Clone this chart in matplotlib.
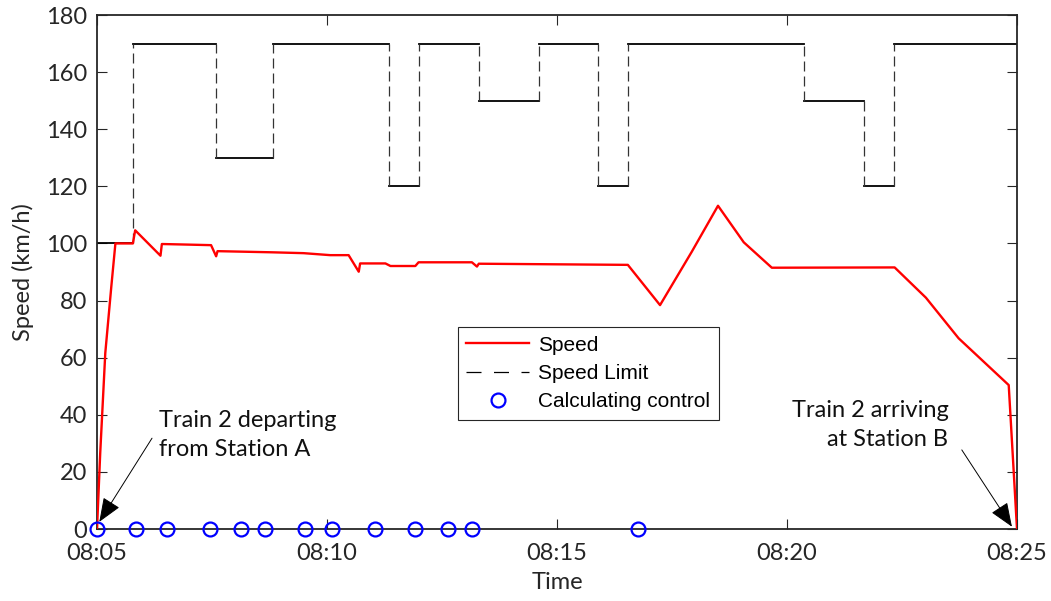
import matplotlib
matplotlib.use('Agg')
import matplotlib.pyplot as plt
from matplotlib.lines import Line2D

# time in minutes after 08:05
speed_t = [0, 0.07, 0.18, 0.31, 0.40, 0.78, 0.83, 1.38, 1.41, 1.96, 2.48, 2.59, 2.62,
           3.80, 4.49, 5.07, 5.47, 5.69, 5.72, 6.27, 6.38, 6.92, 6.99, 8.15, 8.26, 8.30,
           11.54, 12.24, 12.93, 13.50, 14.06, 14.67, 17.34, 18.02, 18.73, 19.82, 20.0]
speed_v = [0, 26.6, 61.6, 84.7, 100, 100, 104.6, 95.7, 99.8, 99.6, 99.4, 95.5, 97.3,
           96.9, 96.6, 95.9, 95.9, 90.1, 93.0, 93.0, 92.1, 92.1, 93.4, 93.4, 91.9, 92.9,
           92.5, 78.4, 97.1, 113.2, 100.4, 91.5, 91.6, 81.0, 66.8, 50.4, 0]

limit_edges = [0, 0.78, 2.59, 3.83, 6.35, 7.01, 8.30, 9.60, 10.90, 11.54, 15.36, 16.67, 17.32, 20]
limit_values = [100, 170, 130, 170, 120, 170, 150, 170, 120, 170, 150, 120, 170]

control_t = [0, 0.855, 1.52, 2.45, 3.12, 3.66, 4.53, 5.11, 6.05, 6.92, 7.64, 8.15, 11.75]

tick_pos = [0, 5, 10, 15, 20]
tick_labels = ['08:05', '08:10', '08:15', '08:20', '08:25']

txt_font = 'Lato'
gray = '#262626'

fig = plt.figure(figsize=(10.51, 6.01), dpi=100)
ax = fig.add_axes([97/1051, 72/601, 920/1051, 514/601])

# speed limit: solid steps, dashed transitions
for i, v in enumerate(limit_values):
    ax.plot([limit_edges[i], limit_edges[i+1]], [v, v], color='k', lw=1.3, zorder=2)
for i in range(1, len(limit_values)):
    lo = min(limit_values[i-1], limit_values[i])
    hi = max(limit_values[i-1], limit_values[i])
    ax.plot([limit_edges[i], limit_edges[i]], [lo, hi], color='#333333', lw=0.9,
            linestyle=(0, (8, 4)), zorder=2)

ax.plot(speed_t, speed_v, color='red', lw=1.7, zorder=3)
ax.plot(control_t, [0]*len(control_t), linestyle='none', marker='o', ms=10,
        mfc='none', mec='blue', mew=1.6, clip_on=False, zorder=4)

ax.set_xlim(0, 20)
ax.set_ylim(0, 180)
ax.set_xticks(tick_pos)
ax.set_xticklabels(tick_labels)
ax.set_yticks(range(0, 181, 20))
ax.tick_params(direction='in', length=7, width=0.8, top=True, right=True,
               labelsize=17, colors=gray)
ax.tick_params(axis='x', pad=10)
ax.tick_params(axis='y', pad=7)
for lab in ax.get_xticklabels() + ax.get_yticklabels():
    lab.set_family(txt_font)
    lab.set_color(gray)
for s in ax.spines.values():
    s.set_color(gray)
    s.set_linewidth(1.3)

ax.set_xlabel('Time', fontsize=17, family=txt_font, color=gray, labelpad=6)
ax.set_ylabel('Speed (km/h)', fontsize=17, family=txt_font, color=gray, labelpad=9)

handles = [Line2D([], [], color='red', lw=1.7),
           Line2D([], [], color='k', lw=0.9, linestyle=(0, (12, 10))),
           Line2D([], [], linestyle='none', marker='o', ms=10, mfc='none', mec='blue', mew=1.6)]
leg = ax.legend(handles, ['Speed', 'Speed Limit', 'Calculating control'],
                loc='upper left', bbox_to_anchor=(0.392, 0.393), borderaxespad=0,
                prop={'family': 'Liberation Sans', 'size': 15},
                handlelength=3.0, handletextpad=0.43, labelspacing=0.44,
                borderpad=0.42, fancybox=False, framealpha=1)
leg.get_frame().set_edgecolor(gray)
leg.get_frame().set_linewidth(0.8)

ax.text(1.34, 33.0, 'Train 2 departing\nfrom Station A', ha='left', va='center',
        fontsize=17, family=txt_font, color='#111111', linespacing=1.45)
ax.annotate('', xy=(0.05, 2.5), xytext=(1.196, 31.8),
            arrowprops=dict(arrowstyle='-|>,head_length=0.75,head_width=0.3',
                            mutation_scale=20, color='k', lw=0.7, shrinkA=0, shrinkB=0))
ax.text(18.51, 36.5, 'Train 2 arriving\nat Station B', ha='right', va='center',
        fontsize=17, family=txt_font, color='#111111', linespacing=1.45)
ax.annotate('', xy=(19.89, 0.8), xytext=(18.80, 27.7),
            arrowprops=dict(arrowstyle='-|>,head_length=0.75,head_width=0.3',
                            mutation_scale=20, color='k', lw=0.7, shrinkA=0, shrinkB=0))

fig.savefig('out.png', dpi=100)
